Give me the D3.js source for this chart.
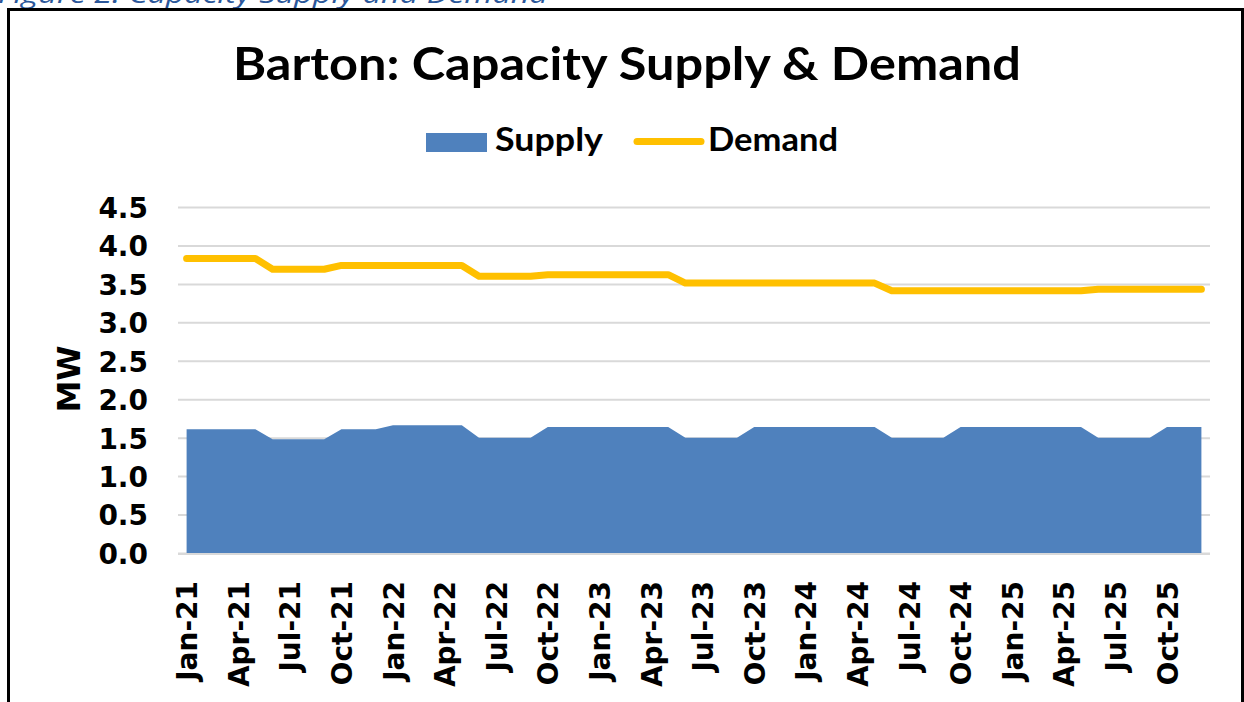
<!DOCTYPE html>
<html>
<head>
<meta charset="utf-8">
<script src="https://cdn.jsdelivr.net/npm/d3@7"></script>
<style>
  html, body { margin: 0; padding: 0; background: #fff; }
  svg { display: block; }
  text { font-family: Lato, "DejaVu Sans", sans-serif; font-weight: 700; }
  .tick text { font-family: "DejaVu Sans", Verdana, sans-serif; }
</style>
</head>
<body>
<svg id="chart"></svg>
<script>
'use strict';

var months = [
  'Jan-21','Feb-21','Mar-21','Apr-21','May-21','Jun-21','Jul-21','Aug-21','Sep-21','Oct-21','Nov-21','Dec-21',
  'Jan-22','Feb-22','Mar-22','Apr-22','May-22','Jun-22','Jul-22','Aug-22','Sep-22','Oct-22','Nov-22','Dec-22',
  'Jan-23','Feb-23','Mar-23','Apr-23','May-23','Jun-23','Jul-23','Aug-23','Sep-23','Oct-23','Nov-23','Dec-23',
  'Jan-24','Feb-24','Mar-24','Apr-24','May-24','Jun-24','Jul-24','Aug-24','Sep-24','Oct-24','Nov-24','Dec-24',
  'Jan-25','Feb-25','Mar-25','Apr-25','May-25','Jun-25','Jul-25','Aug-25','Sep-25','Oct-25','Nov-25','Dec-25'
];

var supply = [
  1.61, 1.61, 1.61, 1.61, 1.61, 1.48, 1.48, 1.48, 1.48, 1.61, 1.61, 1.61,
  1.66, 1.66, 1.66, 1.66, 1.66, 1.50, 1.50, 1.50, 1.50, 1.64, 1.64, 1.64,
  1.64, 1.64, 1.64, 1.64, 1.64, 1.50, 1.50, 1.50, 1.50, 1.64, 1.64, 1.64,
  1.64, 1.64, 1.64, 1.64, 1.64, 1.50, 1.50, 1.50, 1.50, 1.64, 1.64, 1.64,
  1.64, 1.64, 1.64, 1.64, 1.64, 1.50, 1.50, 1.50, 1.50, 1.64, 1.64, 1.64
];

var demand = [
  3.83, 3.83, 3.83, 3.83, 3.83, 3.69, 3.69, 3.69, 3.69, 3.74, 3.74, 3.74,
  3.74, 3.74, 3.74, 3.74, 3.74, 3.60, 3.60, 3.60, 3.60, 3.62, 3.62, 3.62,
  3.62, 3.62, 3.62, 3.62, 3.62, 3.51, 3.51, 3.51, 3.51, 3.51, 3.51, 3.51,
  3.51, 3.51, 3.51, 3.51, 3.51, 3.41, 3.41, 3.41, 3.41, 3.41, 3.41, 3.41,
  3.41, 3.41, 3.41, 3.41, 3.41, 3.43, 3.43, 3.43, 3.43, 3.43, 3.43, 3.43
];

var yTicks = [0, 0.5, 1, 1.5, 2, 2.5, 3, 3.5, 4, 4.5];

var width = 1244,
  height = 702,
  plot = { left: 178, right: 1210, top: 207, bottom: 553 },
  colors = { supply: '#4F81BD', demand: '#FFC000', grid: '#D9D9D9' };

var data = months.map(function (m, i) {
  return { month: m, supply: supply[i], demand: demand[i] };
});

var svg = d3.select('#chart')
  .attr('width', width)
  .attr('height', height);

// stretch a text to a measured width
function fit(sel, w) {
  sel.attr('textLength', w).attr('lengthAdjust', 'spacingAndGlyphs');
}

// caption above the frame (cut off at the top, as in the source)
svg.append('text')
  .attr('x', -2)
  .attr('y', 3)
  .style('font-family', '"Open Sans", Lato, sans-serif')
  .style('font-weight', 400)
  .style('font-style', 'italic')
  .style('font-size', '26px')
  .attr('fill', '#2B579A')
  .text('Figure 2: Capacity Supply and Demand')
  .call(fit, 550);

// chart frame
svg.append('rect')
  .attr('x', 8.5)
  .attr('y', 9.5)
  .attr('width', 1234)
  .attr('height', 720)
  .attr('fill', 'none')
  .attr('stroke', '#000')
  .attr('stroke-width', 3);

svg.append('text')
  .attr('x', 627)
  .attr('y', 80)
  .attr('text-anchor', 'middle')
  .style('font-size', '46px')
  .attr('fill', '#000')
  .text('Barton: Capacity Supply & Demand')
  .call(fit, 788);

// legend
var legend = svg.append('g');
legend.append('rect')
  .attr('x', 426).attr('y', 133)
  .attr('width', 61).attr('height', 19)
  .attr('fill', colors.supply);
legend.append('text')
  .attr('x', 495).attr('y', 151)
  .style('font-size', '32px')
  .text('Supply')
  .call(fit, 108);
legend.append('line')
  .attr('x1', 637).attr('x2', 701)
  .attr('y1', 141.5).attr('y2', 141.5)
  .attr('stroke', colors.demand)
  .attr('stroke-width', 7)
  .attr('stroke-linecap', 'round');
legend.append('text')
  .attr('x', 708).attr('y', 151)
  .style('font-size', '32px')
  .text('Demand')
  .call(fit, 130);

// scales
var x = d3.scalePoint()
  .domain(months)
  .range([plot.left, plot.right])
  .padding(0.5);
var y = d3.scaleLinear()
  .domain([0, 4.5])
  .range([plot.bottom, plot.top]);

// gridlines
svg.append('g')
  .attr('class', 'grid')
  .attr('transform', 'translate(' + plot.left + ',0)')
  .call(d3.axisLeft(y).tickValues(yTicks).tickSize(-(plot.right - plot.left)).tickFormat(''))
  .call(function (g) {
    g.select('.domain').remove();
    g.selectAll('line').attr('stroke', colors.grid).attr('stroke-width', 2);
  });

// supply area
var area = d3.area()
  .x(function (d) { return x(d.month); })
  .y0(y(0))
  .y1(function (d) { return y(d.supply); });

svg.append('path')
  .datum(data)
  .attr('fill', colors.supply)
  .attr('d', area);

// bottom axis line
svg.append('line')
  .attr('x1', plot.left).attr('x2', plot.right)
  .attr('y1', plot.bottom + 1).attr('y2', plot.bottom + 1)
  .attr('stroke', colors.grid)
  .attr('stroke-width', 2);

// demand line
var line = d3.line()
  .x(function (d) { return x(d.month); })
  .y(function (d) { return y(d.demand); });

svg.append('path')
  .datum(data)
  .attr('fill', 'none')
  .attr('stroke', colors.demand)
  .attr('stroke-width', 7)
  .attr('stroke-linecap', 'round')
  .attr('stroke-linejoin', 'round')
  .attr('d', line);

// y axis labels
svg.append('g')
  .attr('transform', 'translate(' + (plot.left - 30) + ',0)')
  .call(d3.axisLeft(y).tickValues(yTicks).tickSize(0).tickPadding(0).tickFormat(d3.format('.1f')))
  .call(function (g) {
    g.select('.domain').remove();
    g.selectAll('text')
      .attr('fill', '#000')
      .style('font-size', '28px')
      .attr('dy', '0.37em');
  });

svg.append('text')
  .attr('transform', 'translate(80,379) rotate(-90)')
  .attr('text-anchor', 'middle')
  .style('font-family', '"DejaVu Sans", sans-serif')
  .style('font-size', '32px')
  .text('MW');

// x axis labels, every third month
svg.append('g')
  .attr('transform', 'translate(0,' + plot.bottom + ')')
  .call(d3.axisBottom(x)
    .tickValues(months.filter(function (m, i) { return i % 3 === 0; }))
    .tickSize(0))
  .call(function (g) {
    g.select('.domain').remove();
    g.selectAll('text')
      .attr('fill', '#000')
      .style('font-size', '28px')
      .attr('transform', 'rotate(-90)')
      .attr('x', -28)
      .attr('y', 0)
      .attr('dy', '0.36em')
      .style('text-anchor', 'end');
  });
</script>
</body>
</html>
